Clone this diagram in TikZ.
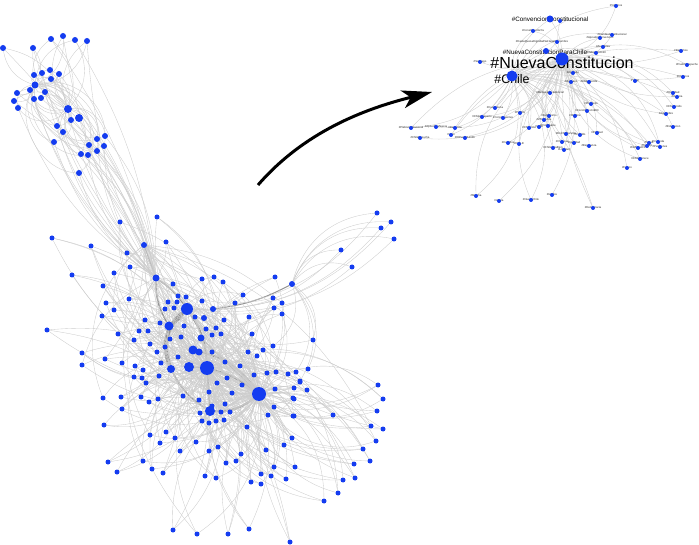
\documentclass[tikz,border=0pt]{standalone}
\usepackage{fontspec}
\setsansfont{Liberation Sans}
\usetikzlibrary{arrows.meta}
\definecolor{nodeblue}{RGB}{20,60,240}
\pgfdeclarelayer{bg}
\pgfsetlayers{bg,main}
\tikzset{
  dot/.style={circle, fill=nodeblue, inner sep=0pt, minimum size=#1},
  dot/.default=5,
  edge/.style={draw=black!20, line width=0.35pt},
  heavy/.style={draw=black!42, line width=#1},
  tag/.style={font=\sffamily\fontsize{2.8}{2.8}\selectfont, text=black!85, inner sep=0pt},
}
\begin{document}
\begin{tikzpicture}[x=1pt, y=-1pt]
    \useasboundingbox (0,0) rectangle (699,545);

    % hubs of the main cluster
    \node[dot=14] (h1) at (207,368) {};
    \node[dot=14] (h2) at (259,394) {};
    \node[dot=12] (h3) at (187,309) {};
    \node[dot=10] (h4) at (210,411) {};
    \node[dot=9] (h5) at (169,326) {};
    \node[dot=9] (h6) at (193,350) {};
    \node[dot=10] (h7) at (189,367) {};
    \node[dot=7] (h8) at (156,278) {};
    \node[dot=6] (h9) at (144,245) {};
    \node[dot=8] (h10) at (171,369) {};
    \node[dot=7] (h11) at (199,352) {};
    \node[dot=7] (h12) at (201,338) {};
    \node[dot=6] (h13) at (213,309) {};
    \node[dot=6] (h14) at (204,318) {};
    \node[dot=6] (h15) at (292,284) {};

    % upper cluster hubs
    \node[dot=8] (u1) at (68,109) {};
    \node[dot=8] (u2) at (79,118) {};
    \node[dot=7] (u3) at (35,85) {};

    % main cluster
    \foreach \px/\py [count=\i] in {157/217, 120/222, 52/238, 91/246, 166/242, 127/253, 130/267, 114/273, 72/275, 103/286,
        106/303, 129/299, 114/310, 102/316, 47/330, 118/334, 134/340, 82/353, 82/365, 105/359, 122/363, 135/366, 143/370,
        134/377, 142/378, 146/383, 103/398, 121/397, 149/402, 158/399, 122/409, 104/425, 150/435, 166/432, 160/443,
        108/462, 143/461, 117/472, 152/469, 163/473,
        202/279, 214/277, 223/282, 173/284, 178/296, 186/297, 168/302, 177/302, 165/309, 174/308, 202/301, 145/320,
        160/323, 184/326, 195/317, 224/320, 235/303, 243/295, 249/317, 275/277, 273/298, 282/303, 274/308, 282/314,
        139/331, 148/331, 206/329, 216/328, 221/334, 212/335, 181/337, 170/339, 252/334, 263/350, 150/344, 165/347,
        212/352, 248/352, 257/356, 178/357, 157/352, 161/363, 225/362, 240/366, 254/375, 267/373, 276/372, 288/374,
        159/376, 227/378, 217/383, 242/385, 294/388, 275/389, 141/397, 183/396, 209/392, 232/393, 293/398, 199/400,
        225/404, 212/406, 200/413, 221/412, 230/412, 202/421, 209/423, 216/421, 224/420, 274/407, 293/416, 268/415,
        247/427, 292/438,
        378/385, 383/399, 377/411, 371/426, 383/429, 376/441, 363/449, 370/461, 354/464, 355/478, 343/480, 338/493,
        324/501, 333/415, 307/390, 300/382, 294/399, 294/416, 284/445, 266/450, 295/467, 274/467, 271/476, 261/474,
        286/479, 251/482, 261/484, 241/454, 236/461, 226/463, 218/447, 209/451, 196/442, 180/451, 175/438, 205/476,
        216/478, 173/530, 197/534, 228/534, 249/529, 290/542} {
        \node[dot] (p\i) at (\px,\py) {};
        \xdef\np{\i}
    }

    % group above the main cluster
    \foreach \px/\py [count=\i] in {377/213, 391/222, 381/228, 394/239, 341/250, 352/267, 313/340, 273/346, 296/372,
        308/369, 300/381} {
        \node[dot] (d\i) at (\px,\py) {};
        \xdef\nd{\i}
    }

    % upper cluster
    \foreach \px/\py [count=\i] in {3/48, 33/48, 51/39, 63/36, 75/40, 87/41, 34/75, 42/73, 50/70, 59/74, 51/79, 30/90,
        17/93, 45/92, 14/101, 34/99, 41/98, 18/108, 71/120, 57/126, 63/132, 54/142, 105/136, 97/139, 89/145, 104/146,
        81/154, 88/155, 97/151, 79/173} {
        \node[dot=6] (v\i) at (\px,\py) {};
        \xdef\nv{\i}
    }

    % arrow to the zoomed view
    \coordinate (from) at (258,185);
    \coordinate (to) at (432,92);
    \draw[line width=3pt, -{Stealth[length=30pt, width=18pt, inset=8pt]}] (from) .. controls (304,132) and (364,109) .. (to);

    % zoomed view
    \node[tag, font=\sffamily\fontsize{16}{16}\selectfont, text=black] (nc-t) at (562,63) {\#NuevaConstitucion};
    \node[tag, font=\sffamily\fontsize{12.4}{12.4}\selectfont, text=black] (chile-t) at (512,79) {\#Chile};
    \node[tag, font=\sffamily\fontsize{6.3}{6.3}\selectfont, text=black] (conv-t) at (550,19) {\#ConvencionConstitucional};
    \node[tag, font=\sffamily\fontsize{6.3}{6.3}\selectfont, text=black] (ncpc-t) at (545,52) {\#NuevaConstitucionParaChile};
    \node[tag] (hq-t) at (542,42) {\#HastaQueLaDignidadSeHagaCostumbre};
    \node[dot=13] (nc) at (562,59) {};
    \node[dot=11] (chile) at (512,76) {};
    \node[dot=7] (conv) at (550,19) {};
    \node[dot=6] (ncpc) at (546,51) {};
    \node[dot=4] (hq) at (557,42) {};

    \foreach \x/\y/\t [count=\i] in {616/6/\#Votemos, 560/21/{}, 533/31/\#ConstituyenteYa, 600/38/\#AprueboConvencion,
        612/35/\#CambioConstitucional, 603/47/\#Asamblea, 596/53/\#Plebiscito2020, 480/62/\#Santiago, 573/73/\#Apruebo,
        571/82/\#Rechazo, 589/82/\#ChileDecide, 635/81/\#Votar, 681/51/\#Derechos, 687/65/\#PuebloMapuche,
        683/77/\#Chilenos, 673/93/\#Dignidad, 677/97/\#Justicia, 674/107/\#ChileUnido, 666/114/\#AguaLibre,
        673/127/\#Educacion, 649/143/\#Salud, 660/147/\#Pensiones, 638/148/\#NoMasAFP, 587/111/\#Constitucion1980,
        591/104/\#Plebiscito, 575/116/\#Octubre, 544/120/\#25Octubre, 549/116/\#Feminismo, 529/128/\#ChileVota,
        539/127/\#Vota, 548/126/\#YoApruebo, 566/134/\#EnChileSeVota, 580/135/\#Cabildo, 597/133/\#Paridad,
        562/142/\#Chilenas, 508/143/\#Cabildos, 519/144/\#CHILE, 520/113/\#Pueblo, 503/118/\#Constituyentes,
        482/117/\#ChileDesperto, 495/108/\#Cuarentena, 465/138/\#ElPuebloUnido, 451/135/\#Voto, 436/127/\#ApruebolaNueva,
        411/128/\#PlebiscitoNacional, 420/138/\#ChileEnLucha, 455/128/\#Renuncia, 550/93/\#MensajePresidencial,
        553/148/\#ChileVotaBien, 564/150/\#Libertad, 574/143/\#Igualdad, 589/146/\#Esperanza, 647/146/\#Trabajo,
        658/142/\#Vivienda, 640/159/\#ChileMerece, 627/168/\#Futuro, 476/196/\#Marcha, 499/201/\#Ahora,
        531/200/\#NuevoChile, 552/195/\#Unidos, 593/208/\#Democracia} {
        \node[tag] (t\i) at (\x,\y) {\t};
        \node[dot=4] (q\i) at (\x,\y) {};
        \xdef\nq{\i}
    }

    % links, all behind the nodes
    \begin{pgfonlayer}{bg}
    \draw[heavy=4pt] (h3) to[bend right=35] (h10);
    \draw[heavy=2.5pt] (h3) to[bend left=10] (h5);
    \draw[heavy=2pt] (h5) to[bend right=20] (h10);
    \draw[heavy=2pt] (h3) to[bend left=15] (h1);
    \draw[heavy=2pt] (h1) to[bend left=10] (h2);
    \draw[heavy=2pt] (h6) to[bend left=20] (h2);
    \draw[heavy=1.5pt] (h1) to (h4);
    \draw[heavy=2pt] (h4) to[bend right=20] (h2);
    \draw[heavy=1.5pt] (h10) to[bend right=15] (h4);
    \draw[heavy=1.5pt] (h8) to[bend left=10] (h3);
    \draw[heavy=1.5pt] (h8) to[bend right=15] (h5);
    \draw[heavy=1.5pt] (h7) to (h1);
    \draw[heavy=1pt] (h12) to (h2);
    \draw[heavy=1pt] (h9) to (h8);
    \draw[heavy=1pt] (h15) to[bend left=10] (h13);
    \draw[edge] (u1) to[bend left=15] (h9);
    \draw[edge] (u2) to[bend right=10] (h9);
    \draw[edge] (h9) to[bend left=10] (h3);
    \foreach \i in {1,...,\np} {
        \pgfmathtruncatemacro\bd{(15+mod(\i*47,26))*(mod(\i,2)*2-1)}
        \pgfmathtruncatemacro\hk{mod(\i,7)+3}
        \draw[edge] (p\i) to[bend left=\bd] (h1);
        \draw[edge] (p\i) to[bend right=\bd] (h2);
        \draw[edge] (p\i) to[bend left=\bd] (h\hk);
    }
    \foreach \i in {1,...,\nd} {
        \draw[edge] (d\i) to[bend right=35] (h15);
        \draw[edge] (d\i) to[bend left=25] (h3);
    }
    \foreach \i in {1,...,\nv} {
        \pgfmathtruncatemacro\bd{(30+mod(\i*41,40))*(mod(\i,2)*2-1)}
        \draw[edge] (v\i) to[bend left=\bd] (u1);
        \draw[edge] (v\i) to[bend right=\bd] (u3);
        \draw[edge] (v\i) to[bend left=\bd/3] (h8);
    }
    \draw[edge] (nc) to[bend left=10] (chile);
    \draw[edge] (nc) to[bend right=15] (conv);
    \draw[edge] (nc) to (ncpc);
    \draw[edge] (chile) to[bend left=20] (conv);
    \draw[edge] (hq) to[bend left=10] (chile);
    \foreach \i in {1,...,\nq} {
        \pgfmathtruncatemacro\bd{(12+mod(\i*37,24))*(mod(\i,2)*2-1)}
        \draw[edge] (q\i) to[bend left=\bd] (nc);
        \ifodd\i \draw[edge] (q\i) to[bend right=\bd] (chile); \fi
    }
    \end{pgfonlayer}
\end{tikzpicture}
\end{document}
